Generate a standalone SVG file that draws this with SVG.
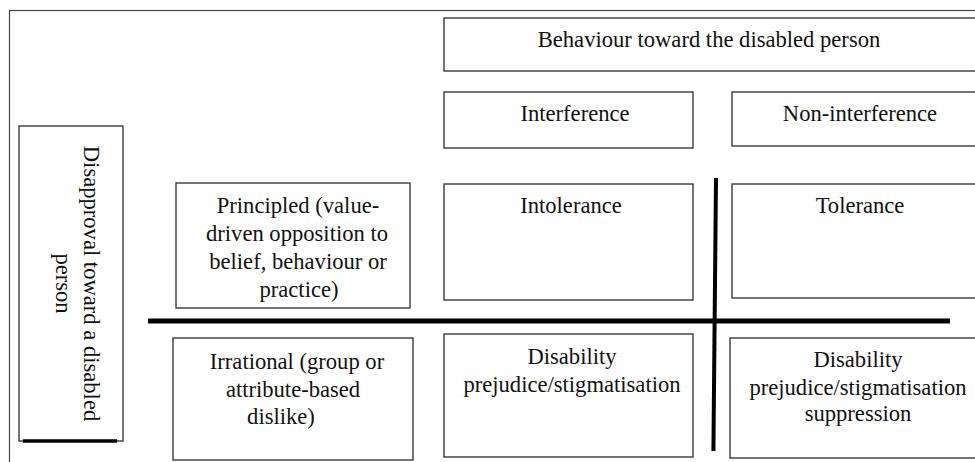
<svg xmlns="http://www.w3.org/2000/svg" width="975" height="462" viewBox="0 0 975 462">
<style>
.box{fill:#fff;stroke:#3a3a3a;stroke-width:1.4}
.frame{fill:none;stroke:#444;stroke-width:1.2}
.t{font-family:"Liberation Serif","Times New Roman",serif;font-size:22.6px;fill:#111;text-anchor:middle}
.axis{stroke:#000;fill:none;stroke-linecap:butt}
</style>
<rect width="975" height="462" fill="#fff"/>
<rect class="frame" x="9.5" y="10.5" width="1000" height="500"/>
<g id="behaviour">
<rect class="box" x="444" y="18" width="545" height="53"/>
<text class="t" x="709" y="47">Behaviour toward the disabled person</text>
</g>
<g id="interference">
<rect class="box" x="444" y="92" width="249" height="56"/>
<text class="t" x="575" y="121">Interference</text>
</g>
<g id="non-interference">
<rect class="box" x="732" y="92" width="257" height="54"/>
<text class="t" x="860" y="121">Non-interference</text>
</g>
<g id="disapproval">
<rect class="box" x="19" y="126" width="104" height="315"/>
<line x1="23" y1="441" x2="117" y2="441" stroke="#000" stroke-width="3.5"/>
<text class="t" transform="translate(84,283.5) rotate(90)" x="0" y="0">Disapproval toward a disabled</text>
<text class="t" transform="translate(56,283.5) rotate(90)" x="0" y="0">person</text>
</g>
<g id="principled">
<rect class="box" x="176" y="183" width="234" height="125"/>
<text class="t" x="298" y="212.5">Principled (value-</text>
<text class="t" x="297" y="241">driven opposition to</text>
<text class="t" x="298" y="269">belief, behaviour or</text>
<text class="t" x="299" y="297">practice)</text>
</g>
<g id="intolerance">
<rect class="box" x="444" y="184" width="249" height="116"/>
<text class="t" x="571" y="213">Intolerance</text>
</g>
<g id="tolerance">
<rect class="box" x="732" y="184" width="257" height="114"/>
<text class="t" x="860" y="213">Tolerance</text>
</g>
<g id="irrational">
<rect class="box" x="173" y="338" width="240" height="122"/>
<text class="t" x="297" y="369">Irrational (group or</text>
<text class="t" x="293" y="396.5">attribute-based</text>
<text class="t" x="281" y="423.5">dislike)</text>
</g>
<g id="prejudice">
<rect class="box" x="444" y="334" width="249" height="123"/>
<text class="t" x="572" y="363.5">Disability</text>
<text class="t" x="572" y="391.5">prejudice/stigmatisation</text>
</g>
<g id="suppression">
<rect class="box" x="730" y="338" width="259" height="120"/>
<text class="t" x="858" y="367">Disability</text>
<text class="t" x="858" y="395">prejudice/stigmatisation</text>
<text class="t" x="858" y="421">suppression</text>
</g>
<g id="connectors">
<line class="axis" x1="148" y1="321" x2="950" y2="321" stroke-width="5"/>
<line class="axis" x1="716" y1="178" x2="713.4" y2="451" stroke-width="4"/>
</g>
</svg>
